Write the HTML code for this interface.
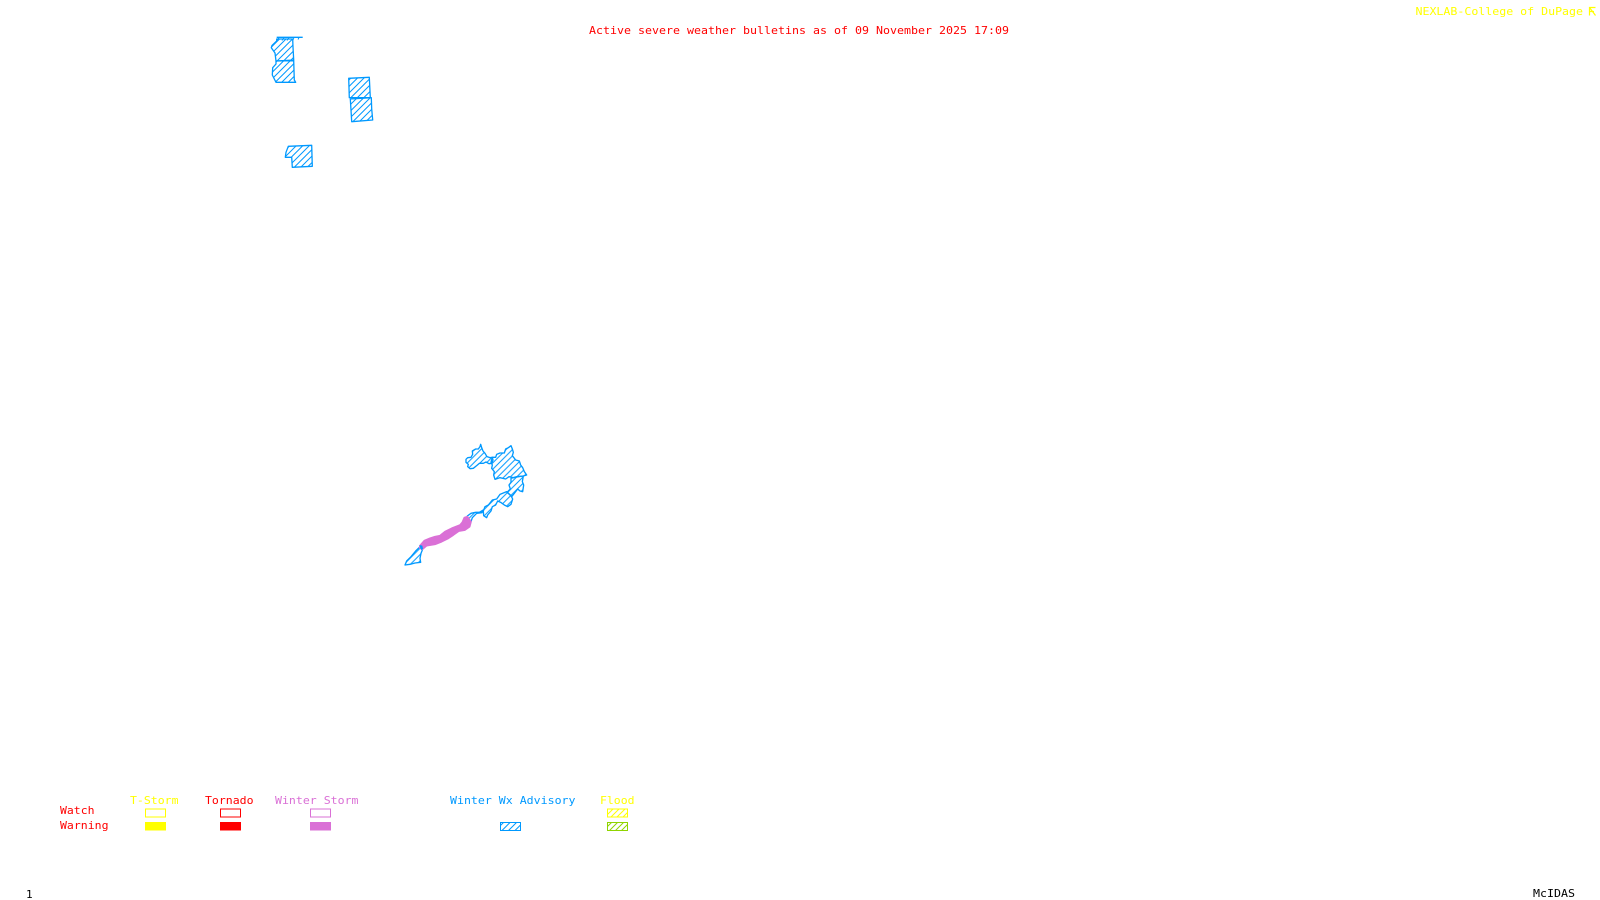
<!DOCTYPE html>
<html><head><meta charset="utf-8"><title>Active severe weather bulletins</title>
<style>
html,body{margin:0;padding:0;background:#fff;width:1600px;height:900px;overflow:hidden}
svg{display:block}
text{font-family:"DejaVu Sans Mono","Liberation Mono",monospace;font-size:11px}
</style></head><body>
<svg xmlns="http://www.w3.org/2000/svg" width="1600" height="900" viewBox="0 0 1600 900">
<defs>
<pattern id="hb" width="6.5" height="6.5" patternUnits="userSpaceOnUse"><path d="M-1 7.5L7.5 -1M-1 1L1 -1M5.5 7.5L7.5 5.5" stroke="#0099ff" stroke-width="1" fill="none"/></pattern>
<pattern id="hb3" width="19" height="19" patternUnits="userSpaceOnUse"><path d="M-3 22L22 -3M-3 3L3 -3M16 22L22 16" stroke="#0099ff" stroke-width="3" fill="none"/></pattern>
<pattern id="hy" width="6" height="6" patternUnits="userSpaceOnUse"><path d="M-1 7L7 -1M-1 1L1 -1M5 7L7 5" stroke="#ffff00" stroke-width="1" fill="none"/></pattern>
<pattern id="hg" width="6" height="6" patternUnits="userSpaceOnUse"><path d="M-1 7L7 -1M-1 1L1 -1M5 7L7 5" stroke="#8fd400" stroke-width="1" fill="none"/></pattern>
</defs>
<g fill="url(#hb)" stroke="#0099ff" stroke-width="1.3" stroke-linejoin="round">
<path d="M276.7 37.3H302.7" fill="none"/>
<path d="M279 37.5l-2 3M284 37.5l-2 3M289 37.5l-2 3M294 37.5l-1 2.5M299 37.5l-1 2" fill="none" stroke-width="1"/>
<polygon points="276.7,39 292.7,39 293,47 293.7,60 276,61 275,53 271.3,47.7 272,45.5 276.7,41"/>
<polygon points="276,61 293.7,60.7 294.3,80 295.7,82.3 276,82.3 272.3,75 272.7,67.7 276,64"/>
<polygon points="348.7,78.3 369.3,77.3 370.3,97.7 349.3,97.7 349,87.7"/>
<polygon points="350.3,99 371.3,97.7 371.7,109 372.7,120 351.7,121.7 351,110"/>
<polygon points="288.3,146.3 311.7,145.3 312.3,166.3 292.3,167.3 291.7,157.3 285.3,157.3 286,152.3"/>
</g>
<g transform="translate(385 425) scale(.33333)" fill="url(#hb3)" stroke="#0099ff" stroke-width="4" stroke-linejoin="round">
<polygon points="243,103 248,98 258,97 263,88 262,78 272,72 280,72 285,65 287,58 290,68 294,78 300,85 306,95 315,98 322,97 324,105 320,115 312,116 303,111 295,115 283,115 275,122 265,130 255,131 248,125 250,118 243,112"/>
<polygon points="322,97 332,97 335,88 345,84 358,84 362,72 370,68 378,62 382,72 385,82 382,92 392,105 403,108 407,120 413,128 418,140 425,150 415,153 400,155 385,158 372,155 362,162 345,158 330,163 326,150 328,140 320,130 322,120 318,112"/>
<polygon points="378,160 395,155 415,153 412,170 416,180 413,200 405,198 398,192 388,205 380,215 372,207 366,202 376,192 372,180 378,172"/>
<polygon points="322,225 335,222 345,208 365,200 378,212 383,222 378,238 368,245 358,240 347,232 338,228 332,240 322,245 318,258 308,270 305,278 296,272 295,258 300,245 310,240"/>
<polygon points="247,273 258,265 272,262 283,262 295,255 291,263 275,265 268,272 262,278 258,290 250,285"/>
<polygon points="105,365 112,375 108,385 105,400 107,412 90,414 75,418 60,420 65,408 78,395 92,378"/>
<polygon fill="#da70d6" stroke="#da70d6" stroke-width="5" points="105,362 118,347 135,340 150,335 165,332 180,320 200,310 225,300 232,292 238,278 247,275 258,290 254,305 240,315 222,318 205,330 190,340 170,350 150,358 125,362 112,373 104,368"/>
<polygon fill="#0099ff" stroke="none" points="103,360 112,362 114,372 108,375"/>
</g>

<text x="589" y="34" fill="#ff0000" textLength="420" lengthAdjust="spacingAndGlyphs">Active severe weather bulletins as of 09 November 2025 17:09</text>
<text x="1415.5" y="15" fill="#ffff00" textLength="167.5" lengthAdjust="spacingAndGlyphs">NEXLAB-College of DuPage</text>
<g fill="none" stroke="#ffff00" stroke-width="1.2"><path d="M1595.5 7.5H1589.5V15.5M1589.5 7.5L1595.5 15.5M1589.5 11.5H1594"/></g>

<text x="130" y="804" fill="#ffff00" textLength="48.5" lengthAdjust="spacingAndGlyphs">T-Storm</text>
<text x="205" y="804" fill="#ff0000" textLength="48.5" lengthAdjust="spacingAndGlyphs">Tornado</text>
<text x="275" y="804" fill="#da70d6" textLength="83.5" lengthAdjust="spacingAndGlyphs">Winter Storm</text>
<text x="450" y="804" fill="#0099ff" textLength="125.5" lengthAdjust="spacingAndGlyphs">Winter Wx Advisory</text>
<text x="600" y="804" fill="#ffff00" textLength="34.5" lengthAdjust="spacingAndGlyphs">Flood</text>
<text x="60" y="814" fill="#ff0000" textLength="34.5" lengthAdjust="spacingAndGlyphs">Watch</text>
<text x="60" y="829" fill="#ff0000" textLength="48.5" lengthAdjust="spacingAndGlyphs">Warning</text>

<rect x="145.5" y="809" width="20" height="8" fill="none" stroke="#ffff00"/>
<rect x="220.5" y="809" width="20" height="8" fill="none" stroke="#ff0000"/>
<rect x="310.5" y="809" width="20" height="8" fill="none" stroke="#da70d6"/>
<rect x="145" y="822" width="21" height="8.5" fill="#ffff00"/>
<rect x="220" y="822" width="21" height="8.5" fill="#ff0000"/>
<rect x="310" y="822" width="21" height="8.5" fill="#da70d6"/>
<rect x="500.5" y="822.5" width="20" height="8" fill="url(#hb)" stroke="#0099ff"/>
<rect x="607.5" y="809" width="20" height="8" fill="url(#hy)" stroke="#ffff00"/>
<rect x="607.5" y="822.5" width="20" height="8" fill="url(#hg)" stroke="#8fd400"/>

<text x="1533" y="897" fill="#000" textLength="42" lengthAdjust="spacingAndGlyphs">McIDAS</text>
<text x="26" y="898" fill="#000">1</text>
</svg>
</body></html>
